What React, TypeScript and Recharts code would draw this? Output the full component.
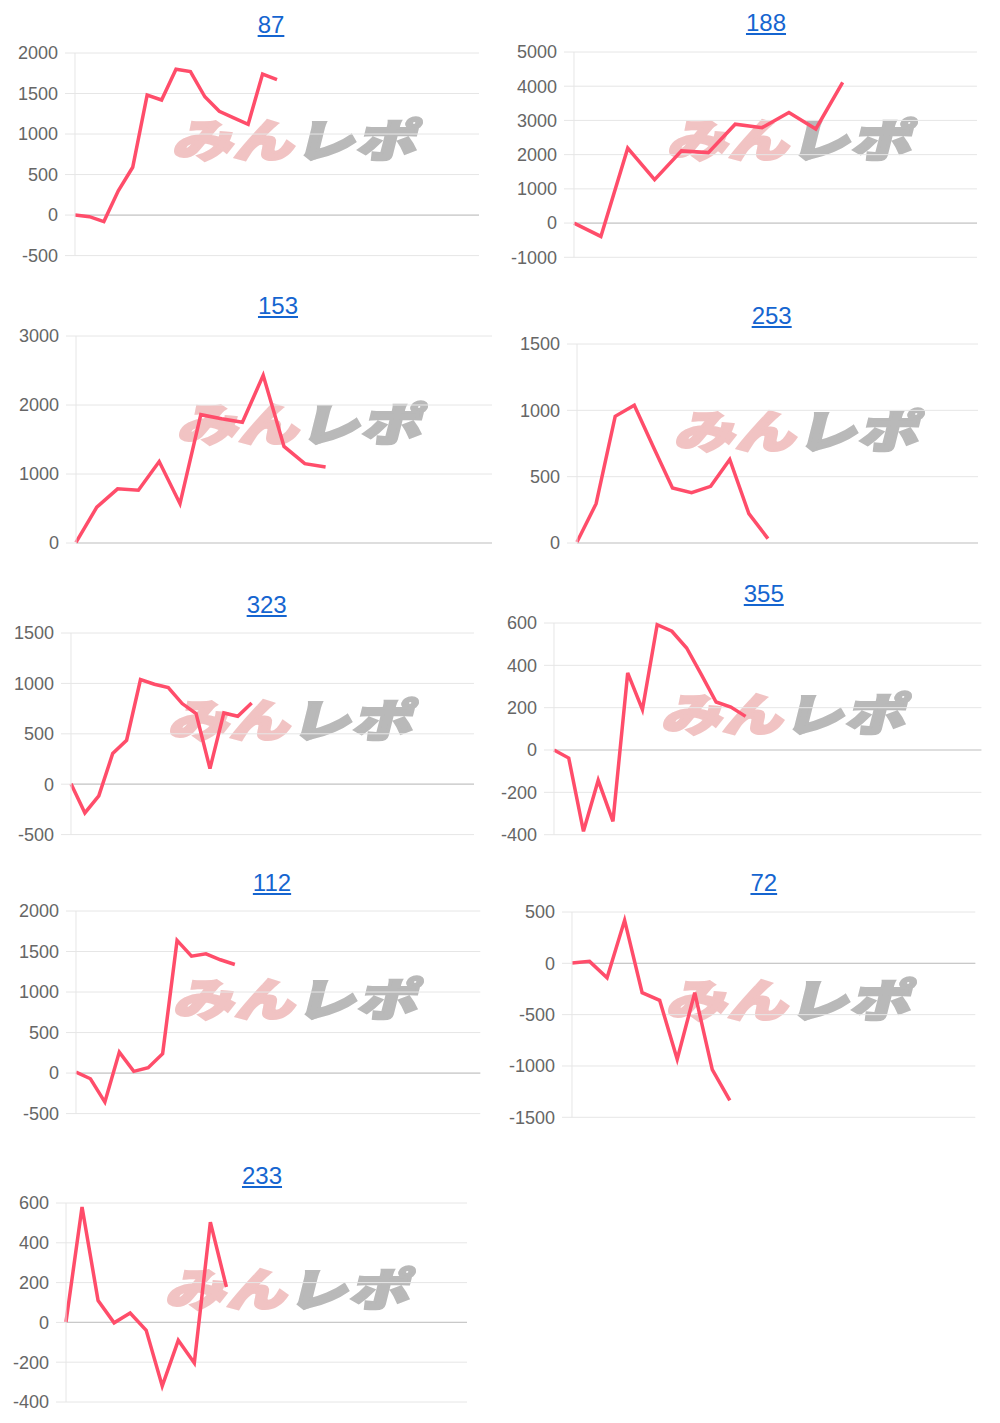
import { LineChart, Line, XAxis, YAxis, CartesianGrid, ReferenceLine } from 'recharts'

// titles of the nine small charts (in page order)
const titles = ['87', '188', '153', '253', '323', '355', '112', '72', '233']

// cumulative values
const values87 = [0, -20, -80, 300, 590, 1480, 1420, 1800, 1770, 1460, 1280, 1200, 1120, 1740, 1670]
const values188 = [0, -390, 2190, 1270, 2110, 2060, 2890, 2790, 3230, 2750, 4110]
const values153 = [10, 520, 785, 765, 1180, 570, 1860, 1800, 1750, 2430, 1400, 1150, 1100]
const values253 = [8, 296, 955, 1038, 724, 415, 380, 427, 630, 221, 33]
const values323 = [5, -285, -116, 304, 436, 1038, 992, 959, 800, 701, 155, 707, 674, 806]
const values355 = [0, -38, -384, -143, -337, 364, 191, 592, 561, 482, 356, 227, 203, 159]
const values112 = [12, -70, -358, 259, 21, 66, 238, 1637, 1443, 1472, 1398, 1340]
const values72 = [3, 19, -140, 419, -286, -360, -935, -286, -1036, -1334]
const values233 = [2, 580, 110, -2, 47, -40, -320, -90, -204, 504, 178]

// number of x slots on each chart's (hidden) category axis
const slotCounts = [29, 16, 21, 22, 30, 30, 29, 24, 26]

// y tick labels
const ticks87 = [-500, 0, 500, 1000, 1500, 2000]
const ticks188 = [-1000, 0, 1000, 2000, 3000, 4000, 5000]
const ticks153 = [0, 1000, 2000, 3000]
const ticks253 = [0, 500, 1000, 1500]
const ticks323 = [-500, 0, 500, 1000, 1500]
const ticks355 = [-400, -200, 0, 200, 400, 600]
const ticks112 = [-500, 0, 500, 1000, 1500, 2000]
const ticks72 = [-1500, -1000, -500, 0, 500]
const ticks233 = [-400, -200, 0, 200, 400, 600]

const allValues = [values87, values188, values153, values253, values323, values355, values112, values72, values233]
const allTicks = [ticks87, ticks188, ticks153, ticks253, ticks323, ticks355, ticks112, ticks72, ticks233]

// page layout: plot rect, title centre/top, watermark top-left
const layout = [
  { x: 75, y: 52.7, w: 404, h: 202.6, tx: 271, ty: 13, wx: 173, wy: 118 },
  { x: 574, y: 51.7, w: 403, h: 205.3, tx: 766, ty: 11, wx: 668, wy: 118 },
  { x: 76, y: 335.7, w: 416, h: 207, tx: 278, ty: 293.7, wx: 178, wy: 402 },
  { x: 576.7, y: 343.7, w: 401, h: 199, tx: 771.7, ty: 303.7, wx: 675, wy: 409 },
  { x: 71, y: 632.7, w: 403, h: 201.6, tx: 266.7, ty: 593, wx: 169, wy: 698 },
  { x: 554.3, y: 623.3, w: 427.4, h: 211.7, tx: 763.8, ty: 582, wx: 662, wy: 692 },
  { x: 75.7, y: 910.7, w: 404.3, h: 202.6, tx: 272, ty: 871, wx: 174, wy: 977 },
  { x: 571.7, y: 911.7, w: 403.3, h: 205.3, tx: 763.8, ty: 871, wx: 667, wy: 978 },
  { x: 65.7, y: 1202.7, w: 401, h: 199, tx: 262, ty: 1163.7, wx: 166, wy: 1267 },
]

const LINE = '#ff4d6a'
const GRID = '#e6e6e6'
const YW = 70
const PAD = 12

function Watermark({ x, y }: { x: number; y: number }) {
  const pink = '#f1c3c3'
  const grey = '#b9b9b9'
  return (
    <div
      style={{
        position: 'absolute', left: x + 10, top: y - 6, whiteSpace: 'nowrap',
        fontFamily: '"Noto Sans CJK JP", sans-serif', fontWeight: 900, fontSize: 50,
        lineHeight: '56px', transform: 'skewX(-14deg) scale(1.2, 0.9)', transformOrigin: 'left top',
        letterSpacing: 1, pointerEvents: 'none',
      }}
    >
      <span style={{ color: pink, WebkitTextStroke: `3px ${pink}` }}>みん</span>
      <span style={{ color: grey, WebkitTextStroke: `3px ${grey}` }}>レポ</span>
    </div>
  )
}

function Panel({ idx }: { idx: number }) {
  const L = layout[idx]
  const vals = allValues[idx]
  const ticks = allTicks[idx]
  const n = slotCounts[idx]
  const data = Array.from({ length: n }, (_, i) => ({ i, v: i < vals.length ? vals[i] : null }))

  return (
    <>
      <Watermark x={L.wx} y={L.wy} />
      <div style={{ position: 'absolute', left: L.x - YW, top: L.y - PAD }}>
        <LineChart
          width={L.w + YW + 4}
          height={L.h + PAD * 2}
          data={data}
          margin={{ top: PAD, right: 4, bottom: PAD, left: 0 }}
        >
          <CartesianGrid vertical={false} stroke={GRID} strokeWidth={1} />
          <XAxis dataKey="i" type="number" domain={[0, n - 1]} hide />
          <YAxis
            width={YW}
            domain={[ticks[0], ticks[ticks.length - 1]]}
            ticks={ticks}
            interval={0}
            axisLine={{ stroke: GRID }}
            tickLine={{ stroke: GRID }}
            tickSize={10}
            tickMargin={7}
            tick={{ fill: '#666', fontSize: 18, fontFamily: '"Liberation Sans", Arial, sans-serif' }}
          />
          <ReferenceLine y={0} stroke="#c9c9c9" strokeWidth={1.2} />
          <Line
            type="linear"
            dataKey="v"
            stroke={LINE}
            strokeWidth={3.5}
            strokeLinejoin="miter"
            dot={false}
            activeDot={false}
            isAnimationActive={false}
          />
        </LineChart>
      </div>
      <div
        style={{
          position: 'absolute', left: L.tx - 60, width: 120, top: L.ty, textAlign: 'center',
          fontFamily: '"Liberation Sans", Arial, sans-serif', fontSize: 24, lineHeight: '24px',
        }}
      >
        <span style={{ color: '#1565d0', textDecoration: 'underline' }}>{titles[idx]}</span>
      </div>
    </>
  )
}

export default function App() {
  return (
    <div style={{ position: 'absolute', left: 0, top: 0, width: 1000, height: 1423, background: '#fff', overflow: 'hidden' }}>
      {titles.map((_, i) => (
        <Panel key={i} idx={i} />
      ))}
    </div>
  )
}
